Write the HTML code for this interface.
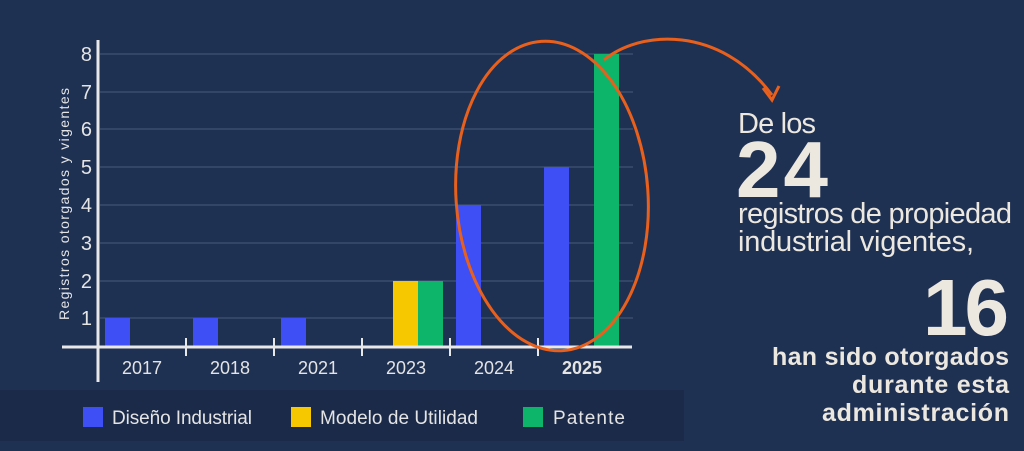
<!DOCTYPE html>
<html><head><meta charset="utf-8"><style>
html,body{margin:0;padding:0;background:#1f3153;}
svg{display:block;font-family:"Liberation Sans",sans-serif;}
</style></head><body>
<svg width="1024" height="451" viewBox="0 0 1024 451">
<rect width="1024" height="451" fill="#1f3153"/>
<g stroke="#4a5c7c" stroke-width="1">
<line x1="100" y1="54" x2="633" y2="54"/>
<line x1="100" y1="92" x2="633" y2="92"/>
<line x1="100" y1="129" x2="633" y2="129"/>
<line x1="100" y1="167" x2="633" y2="167"/>
<line x1="100" y1="205" x2="633" y2="205"/>
<line x1="100" y1="243" x2="633" y2="243"/>
<line x1="100" y1="281" x2="633" y2="281"/>
<line x1="100" y1="318" x2="633" y2="318"/>
</g>
<g fill="#3d4ff5">
<rect x="105" y="318" width="25" height="29"/>
<rect x="193" y="318" width="25" height="29"/>
<rect x="281" y="318" width="25" height="29"/>
<rect x="456" y="205" width="25" height="142"/>
<rect x="544" y="167" width="25" height="180"/>
</g>
<rect x="393" y="281" width="25" height="66" fill="#f5c800"/>
<rect x="418" y="281" width="25" height="66" fill="#0db56a"/>
<rect x="594" y="54" width="25" height="293" fill="#0db56a"/>
<g stroke="#e8e8e8" stroke-width="3">
<line x1="98" y1="40" x2="98" y2="382"/>
<line x1="62" y1="347" x2="632" y2="347"/>
</g>
<g stroke="#e8e8e8" stroke-width="2">
<line x1="186" y1="338" x2="186" y2="356"/>
<line x1="274" y1="338" x2="274" y2="356"/>
<line x1="362" y1="338" x2="362" y2="356"/>
<line x1="450" y1="338" x2="450" y2="356"/>
<line x1="538" y1="338" x2="538" y2="356"/>
</g>
<g fill="#e4e4e4" font-size="20" text-anchor="end">
<text x="92" y="61">8</text><text x="92" y="99">7</text><text x="92" y="136">6</text>
<text x="92" y="174">5</text><text x="92" y="212">4</text><text x="92" y="250">3</text>
<text x="92" y="288">2</text><text x="92" y="325">1</text>
</g>
<text transform="translate(69,320) rotate(-90)" fill="#e4e4e4" font-size="14" textLength="232">Registros otorgados y  vigentes</text>
<g fill="#e4e4e4" font-size="18" text-anchor="middle">
<text x="142" y="374">2017</text><text x="230" y="374">2018</text><text x="318" y="374">2021</text>
<text x="406" y="374">2023</text><text x="494" y="374">2024</text>
<text x="582" y="374" font-weight="bold">2025</text>
</g>
<rect x="0" y="390" width="684" height="51" fill="#1a2a48"/>
<rect x="83" y="407" width="20" height="20" fill="#3d4ff5"/>
<rect x="291" y="407" width="20" height="20" fill="#f5c800"/>
<rect x="523" y="407" width="20" height="20" fill="#0db56a"/>
<g fill="#e4e4e4" font-size="19">
<text x="112" y="424" textLength="140">Diseño Industrial</text>
<text x="320" y="424" textLength="158">Modelo de Utilidad</text>
<text x="553" y="424" textLength="72">Patente</text>
</g>
<ellipse cx="552" cy="196" rx="96" ry="155" transform="rotate(-4 552 196)" fill="none" stroke="#e8601c" stroke-width="3"/>
<path d="M604 60 C640 30 720 25 772 95" fill="none" stroke="#e8601c" stroke-width="3"/>
<path d="M763 88 L772 100 L779 86" fill="none" stroke="#e8601c" stroke-width="3"/>
<g fill="#ece8e0">
<text x="738" y="133" font-size="29" textLength="78">De los</text>
<text x="736" y="197" font-size="80" font-weight="bold" textLength="92">24</text>
<text x="738" y="223" font-size="29" textLength="274">registros de propiedad</text>
<text x="738" y="251" font-size="29" textLength="236">industrial vigentes,</text>
<text x="1009" y="335" font-size="80" font-weight="bold" text-anchor="end" textLength="86">16</text>
<g font-size="25" font-weight="bold" text-anchor="end">
<text x="1009" y="365" textLength="237">han sido otorgados</text>
<text x="1009" y="393" textLength="157">durante esta</text>
<text x="1009" y="421" textLength="187">administración</text>
</g>
</g>
</svg>
</body></html>
